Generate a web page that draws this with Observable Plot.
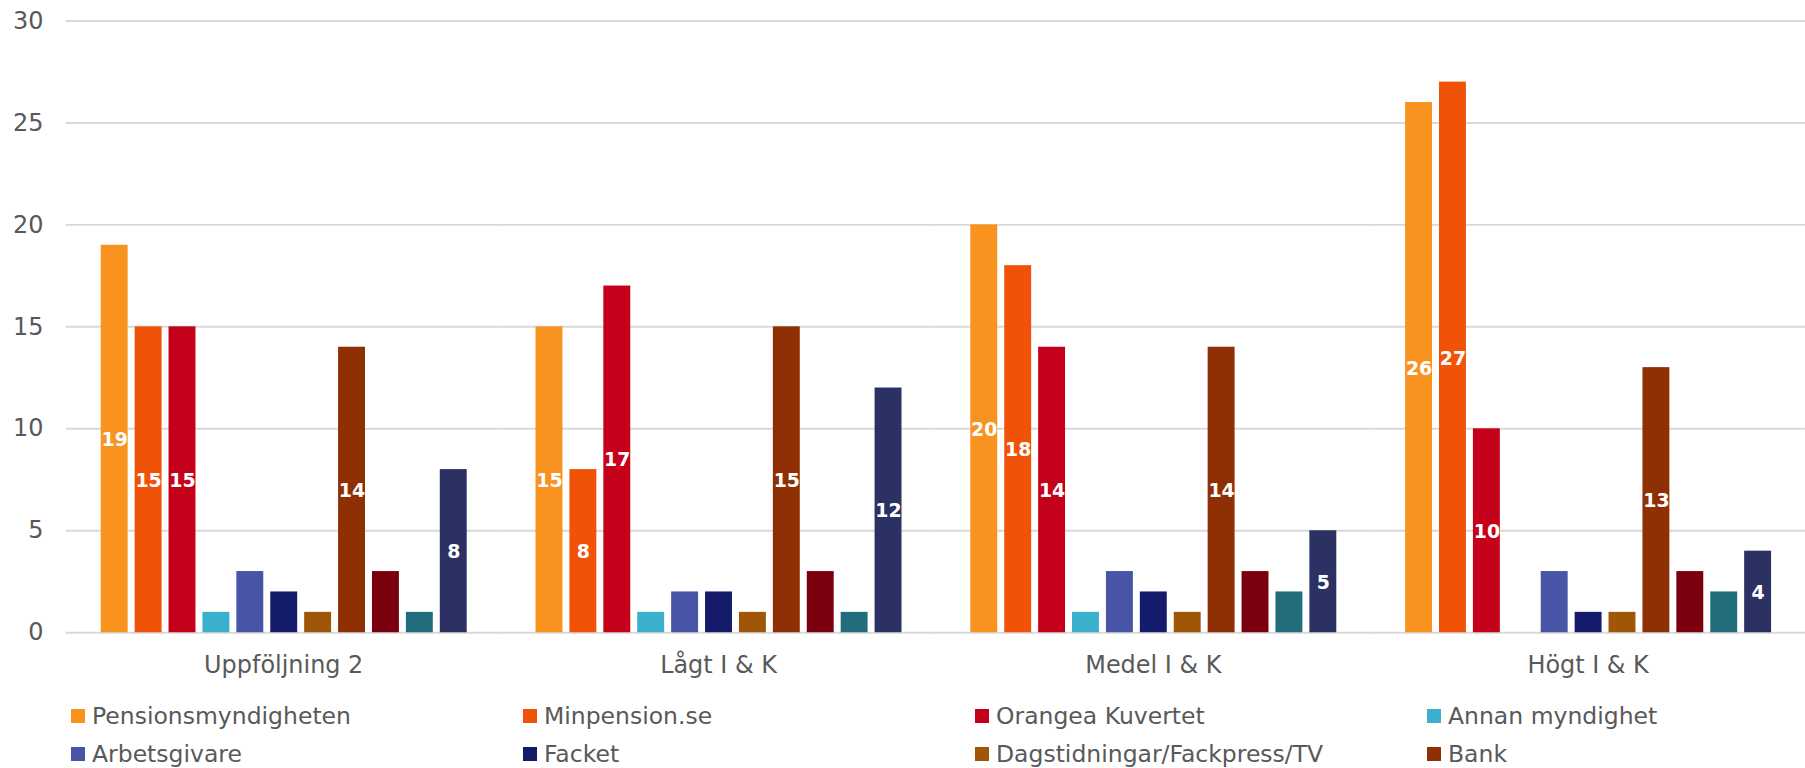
<!DOCTYPE html>
<html><head><meta charset="utf-8">
<script src="https://cdn.jsdelivr.net/npm/d3@7"></script>
<script src="https://cdn.jsdelivr.net/npm/@observablehq/plot@0.6"></script>
<style>
html,body{margin:0;background:#fff;font-family:"DejaVu Sans",Verdana,sans-serif;overflow:hidden;}
#chart svg{display:block;}
#legend{display:grid;grid-template-columns:repeat(4,452px);padding-left:71px;}
.item{display:flex;align-items:center;height:38px;font-size:23.5px;color:#595959;white-space:nowrap;}
.sw{width:14px;height:14px;margin-right:7px;flex:none;}
</style></head><body><div id="chart"></div><div id="legend"></div>
<script>
const groups = ["Uppföljning 2", "Lågt I & K", "Medel I & K", "Högt I & K"];
const series = ["Pensionsmyndigheten", "Minpension.se", "Orangea Kuvertet", "Annan myndighet", "Arbetsgivare", "Facket", "Dagstidningar/Fackpress/TV", "Bank", "Serie 9", "Serie 10", "Serie 11"];
const colors = ["#F7931E", "#F05308", "#C5001A", "#3BB0CC", "#4854A6", "#141B6A", "#A05607", "#8E3003", "#7A0010", "#216D7C", "#2B3263"];
const uppfoljning2 = [19, 15, 15, 1, 3, 2, 1, 14, 3, 1, 8];
const lagt = [15, 8, 17, 1, 2, 2, 1, 15, 3, 1, 12];
const medel = [20, 18, 14, 1, 3, 2, 1, 14, 3, 2, 5];
const hogt = [26, 27, 10, null, 3, 1, 1, 13, 3, 2, 4];
const yTicks = [0, 5, 10, 15, 20, 25, 30];
const legendCount = 8;

const valuesByGroup = [uppfoljning2, lagt, medel, hogt];
const rows = groups.flatMap((g, gi) => series.map((s, si) => ({group: g, series: s, value: valuesByGroup[gi][si]})))
  .filter(d => d.value != null);

const chart = Plot.plot({
  width: 1810, height: 699,
  marginLeft: 66, marginRight: 0, marginTop: 20.5, marginBottom: 65,
  style: {fontFamily: "'DejaVu Sans', Verdana, sans-serif", fontSize: "24px", color: "#595959", background: "#fff"},
  fx: {domain: groups, padding: 0, label: null, axis: "bottom", tickSize: 0, tickPadding: 23},
  x: {domain: series, paddingInner: 0.207, paddingOuter: 0.866, axis: null},
  y: {domain: [0, 30], ticks: yTicks, label: null, tickSize: 0, tickPadding: 23},
  color: {domain: series, range: colors},
  marks: [
    Plot.gridY(yTicks, {stroke: "#D9D9D9", strokeOpacity: 1, strokeWidth: 2}),
    Plot.barY(rows, {fx: "group", x: "series", y: "value", fill: "series"}),
    Plot.text(rows.filter(d => d.value >= 4), {fx: "group", x: "series", y: d => d.value / 2, dy: 1, text: "value", fill: "white", fontWeight: "bold", fontSize: 19})
  ]
});
document.getElementById("chart").appendChild(chart);

const legend = document.getElementById("legend");
series.slice(0, legendCount).forEach((s, i) => {
  const it = document.createElement("div");
  it.className = "item";
  it.innerHTML = `<span class="sw" style="background:${colors[i]}"></span><span>${s}</span>`;
  legend.appendChild(it);
});
</script></body></html>
